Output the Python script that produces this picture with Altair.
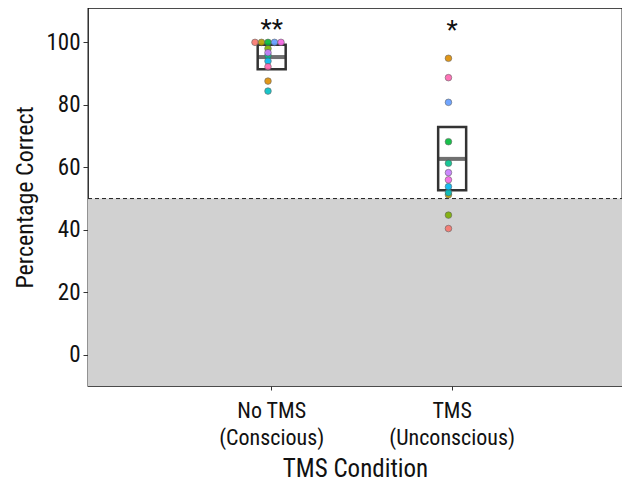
import altair as alt
import pandas as pd

conditions = ["No TMS", "TMS"]
participants = [f"P{i}" for i in range(1, 13)]
colors = ["#F8766D", "#DE8C00", "#B79F00", "#7CAE00", "#00BA38", "#00C08B",
          "#00BFC4", "#00B4F0", "#619CFF", "#C77CFF", "#F564E3", "#FF64B0"]
no_tms = [100, 87.6, 100, 98.0, 100, 95.8, 84.4, 94.0, 100, 96.7, 100, 92.2]
tms = [40.4, 94.9, 51.2, 44.7, 68.2, 61.3, 51.9, 53.8, 80.8, 58.3, 56.0, 88.7]

box_mid = [95.3, 62.7]
box_low = [91.4, 52.7]
box_high = [99.2, 72.9]
stars = ["**", "*"]
star_y = [104.0, 103.5]

chance = 50
y_min, y_max = -10, 111

rows = []
for cond, vals in zip(conditions, [no_tms, tms]):
    for p, v in zip(participants, vals):
        rows.append({"cond": cond, "pid": p, "val": v})
pts = pd.DataFrame(rows)
# spread tied values sideways (dot-plot style)
pts["rank"] = pts.groupby(["cond", "val"]).cumcount()
pts["n"] = pts.groupby(["cond", "val"])["val"].transform("count")
pts["jit"] = pts["rank"] - (pts["n"] - 1) / 2

box = pd.DataFrame({"cond": conditions, "mid": box_mid, "low": box_low,
                    "high": box_high, "star": stars, "sy": star_y})

FONT = "Roboto Condensed, DejaVu Sans Condensed, Liberation Sans Narrow, Roboto, sans-serif"
W, H = 534, 378

xscale = alt.Scale(domain=conditions, padding=0.959, align=0.52)
yscale = alt.Scale(domain=[y_min, y_max], nice=False, zero=False)

x_axis = alt.Axis(
    title="TMS Condition", labelAngle=0,
    labelExpr="datum.label == 'No TMS' ? ['No TMS', '(Conscious)'] : ['TMS', '(Unconscious)']",
    labelFontSize=22, labelLineHeight=27.5, labelPadding=10, titleFontSize=25,
    titlePadding=8, tickSize=4, domain=False, grid=False,
    labelColor="#111", titleColor="#111", titleFontWeight="normal",
)
y_axis = alt.Axis(
    title="Percentage Correct", values=[0, 20, 40, 60, 80, 100],
    labelFontSize=23, titleFontSize=24, tickSize=5, labelPadding=3,
    titlePadding=8, domain=False, grid=False, labelColor="#111",
    titleColor="#111", titleFontWeight="normal",
)

band = alt.Chart(pd.DataFrame({"lo": [y_min], "hi": [chance]})).mark_rect(
    color="#D1D1D1"
).encode(
    x=alt.value(0), x2=alt.value(W),
    y=alt.Y("lo:Q", scale=yscale, axis=y_axis), y2="hi:Q",
)

dash = alt.Chart(pd.DataFrame({"c": [chance]})).mark_rule(
    color="#222", strokeDash=[4, 3], strokeWidth=1
).encode(y=alt.Y("c:Q", scale=yscale), x=alt.value(0), x2=alt.value(W))

boxes = alt.Chart(box).mark_bar(
    size=28, fill="white", fillOpacity=0, stroke="#333", strokeWidth=2.5
).encode(
    x=alt.X("cond:N", scale=xscale, axis=x_axis, sort=conditions),
    y=alt.Y("low:Q", scale=yscale), y2="high:Q",
)

mids = alt.Chart(box).mark_tick(size=28, thickness=4, color="#333").encode(
    x=alt.X("cond:N", scale=xscale, sort=conditions),
    y=alt.Y("mid:Q", scale=yscale),
)

points = alt.Chart(pts).mark_circle(
    size=44, opacity=0.9, stroke="#555", strokeWidth=0.6
).encode(
    x=alt.X("cond:N", scale=xscale, sort=conditions),
    xOffset=alt.XOffset("jit:Q", scale=alt.Scale(domain=[-2, 2], range=[-13, 13])),
    y=alt.Y("val:Q", scale=yscale),
    color=alt.Color("pid:N", scale=alt.Scale(domain=participants, range=colors), legend=None),
)

star_text = alt.Chart(box).mark_text(fontSize=26, font=FONT, color="#111", baseline="middle").encode(
    x=alt.X("cond:N", scale=xscale, sort=conditions),
    y=alt.Y("sy:Q", scale=yscale),
    text="star:N",
)

chart = alt.layer(band, dash, boxes, mids, points, star_text).properties(
    width=W, height=H,
    autosize=alt.AutoSizeParams(type="none"),
    padding={"left": 80, "top": 0, "right": 0, "bottom": 96},
).configure_view(stroke="#111", strokeWidth=1.3).configure_axis(
    labelFont=FONT, titleFont=FONT, tickColor="#333"
)

chart.save("out.html", embed_options={"renderer": "svg", "actions": False})
